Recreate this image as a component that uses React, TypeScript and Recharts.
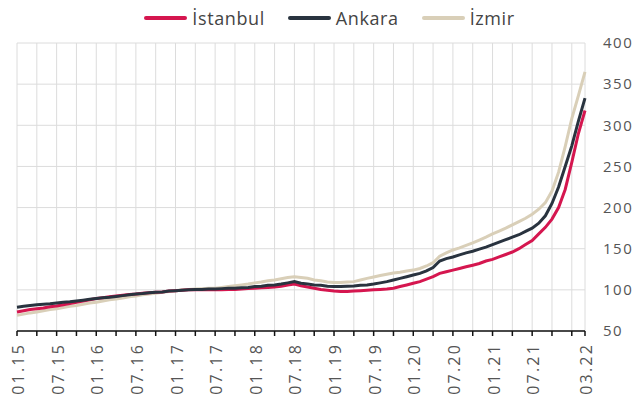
import React from 'react';
import { LineChart, Line, XAxis, YAxis, CartesianGrid, Legend } from 'recharts';

const months = [
  '01.15', '02.15', '03.15', '04.15', '05.15', '06.15', '07.15', '08.15', '09.15', '10.15', '11.15', '12.15',
  '01.16', '02.16', '03.16', '04.16', '05.16', '06.16', '07.16', '08.16', '09.16', '10.16', '11.16', '12.16',
  '01.17', '02.17', '03.17', '04.17', '05.17', '06.17', '07.17', '08.17', '09.17', '10.17', '11.17', '12.17',
  '01.18', '02.18', '03.18', '04.18', '05.18', '06.18', '07.18', '08.18', '09.18', '10.18', '11.18', '12.18',
  '01.19', '02.19', '03.19', '04.19', '05.19', '06.19', '07.19', '08.19', '09.19', '10.19', '11.19', '12.19',
  '01.20', '02.20', '03.20', '04.20', '05.20', '06.20', '07.20', '08.20', '09.20', '10.20', '11.20', '12.20',
  '01.21', '02.21', '03.21', '04.21', '05.21', '06.21', '07.21', '08.21', '09.21', '10.21', '11.21', '12.21',
  '01.22', '02.22', '03.22',
];

const istanbul = [
  73, 74.5, 76, 77, 78, 79.5, 80.5, 82, 83.5, 85, 86.5, 88,
  89.5, 90.5, 91.5, 92.5, 93.5, 94.5, 95, 96, 96.5, 97, 97.5, 98.5,
  99, 99.5, 100, 100, 100, 100, 100, 100, 100.5, 100.5, 101, 101.5,
  102, 102.5, 103, 103.5, 104.5, 106, 107, 105, 103.5, 102, 100.5, 99.5,
  98.5, 98, 98, 98.5, 99, 99.5, 100, 100.5, 101, 102, 104, 106,
  108, 110, 113, 116, 120, 122, 124, 126, 128, 130, 132, 135,
  137, 140, 143, 146, 150, 155, 160, 168, 176, 186, 200, 222,
  255, 290, 318,
];

const ankara = [
  79, 80, 81, 82, 82.5, 83, 84, 85, 85.5, 86.5, 87.5, 88.5,
  89.5, 90.5, 91, 92, 93, 94, 95, 95.5, 96.5, 97, 97.5, 98.5,
  99, 99.5, 100, 100.5, 100.5, 101, 101, 101.5, 102, 102, 102.5, 103,
  104, 104.5, 105.5, 106, 107, 108.5, 110, 108, 107, 106, 105.5, 104.5,
  104, 104, 104.5, 104.7, 105.5, 106, 107, 108.5, 110, 112, 114, 116,
  118, 120, 123, 127, 135, 138, 140, 142.5, 145, 147, 149.5, 152,
  155, 158, 161, 164, 167, 171, 175, 181, 190, 205, 225, 250,
  275, 305, 333,
];

const izmir = [
  69, 70.5, 72, 73, 74.5, 76, 77, 78.5, 80, 81, 82.5, 84,
  85, 86.5, 88, 89, 90, 91.5, 92.5, 94, 95, 96, 97, 98,
  99, 100, 100.5, 101, 101.5, 102, 102, 103, 104, 105, 106, 107,
  108.5, 109.5, 111, 112, 113.5, 115, 116, 115, 114, 112, 111, 109.5,
  109, 109, 109.5, 110, 112, 114, 115.7, 117.5, 119, 120.5, 121.5, 123,
  124, 126, 129, 133, 141, 145, 148.5, 151, 154, 157, 160.5, 164,
  168, 171.5, 175, 179, 183, 187, 192, 198, 206, 220, 243, 274,
  308, 336, 365,
];

const axisTicks = [
  '01.15', '04.15', '07.15', '10.15', '01.16', '04.16', '07.16', '10.16',
  '01.17', '04.17', '07.17', '10.17', '01.18', '04.18', '07.18', '10.18',
  '01.19', '04.19', '07.19', '10.19', '01.20', '04.20', '07.20', '10.20',
  '01.21', '04.21', '07.21', '10.21', '01.22', '03.22',
];

const shownLabels = [
  '01.15', '07.15', '01.16', '07.16', '01.17', '07.17', '01.18', '07.18',
  '01.19', '07.19', '01.20', '07.20', '01.21', '07.21', '03.22',
];

const yTicks = [50, 100, 150, 200, 250, 300, 350, 400];

const series = [
  { key: 'istanbul', name: 'İstanbul', color: '#d5164f' },
  { key: 'ankara', name: 'Ankara', color: '#29333f' },
  { key: 'izmir', name: 'İzmir', color: '#d9cfb8' },
];

const drawOrder = ['izmir', 'istanbul', 'ankara'];

const data = months.map((m, i) => ({
  month: m,
  istanbul: istanbul[i],
  ankara: ankara[i],
  izmir: izmir[i],
}));

const FONT = "'Open Sans', sans-serif";

const XTick = (props: any) => {
  const { x, y, payload } = props;
  if (!shownLabels.includes(payload.value)) return <g />;
  return (
    <text
      x={0}
      y={0}
      transform={`translate(${x + 7},${y + 5}) rotate(-90)`}
      textAnchor="end"
      fontSize={16}
      letterSpacing={2.2}
      fill="#555"
      fontFamily={FONT}
    >
      {payload.value}
    </text>
  );
};

const LegendContent = () => (
  <div
    style={{
      display: 'flex',
      justifyContent: 'center',
      alignItems: 'center',
      paddingLeft: 16,
      fontFamily: FONT,
      fontSize: 18,
      letterSpacing: 0.6,
      color: '#444',
      height: 26,
    }}
  >
    {series.map((s, i) => (
      <div key={s.key} style={{ display: 'flex', alignItems: 'center', marginLeft: i === 0 ? 0 : 23 }}>
        <span style={{ display: 'inline-block', width: 43, height: 4, background: s.color, marginRight: 5, borderRadius: 2 }} />
        <span>{s.name}</span>
      </div>
    ))}
  </div>
);

export default function App() {
  return (
    <div style={{ position: 'absolute', left: 0, top: 0, width: 643, height: 401, background: '#fff' }}>
      <LineChart width={643} height={401} data={data} margin={{ top: 17, right: 0, bottom: 0, left: 17 }}>
        <CartesianGrid stroke="#dcdcdc" strokeWidth={1} />
        <XAxis
          dataKey="month"
          ticks={axisTicks}
          interval={0}
          height={70}
          tickSize={5}
          tickLine={{ stroke: '#111', strokeWidth: 1.5 }}
          axisLine={{ stroke: '#111', strokeWidth: 1.5 }}
          tick={<XTick />}
        />
        <YAxis
          orientation="right"
          width={58}
          domain={[50, 400]}
          ticks={yTicks}
          axisLine={false}
          tickLine={false}
          tickSize={8}
          tickMargin={10}
          tick={{ fill: '#555', fontSize: 15, letterSpacing: 1.5, fontFamily: FONT }}
        />
        <Legend verticalAlign="top" content={<LegendContent />} wrapperStyle={{ top: 5, left: 0, width: 643, height: 26 }} />
        {drawOrder.map((k) => {
          const s = series.find((x) => x.key === k)!;
          return (
            <Line
              key={s.key}
              type="linear"
              dataKey={s.key}
              name={s.name}
              stroke={s.color}
              strokeWidth={3}
              dot={false}
              isAnimationActive={false}
            />
          );
        })}
      </LineChart>
    </div>
  );
}
